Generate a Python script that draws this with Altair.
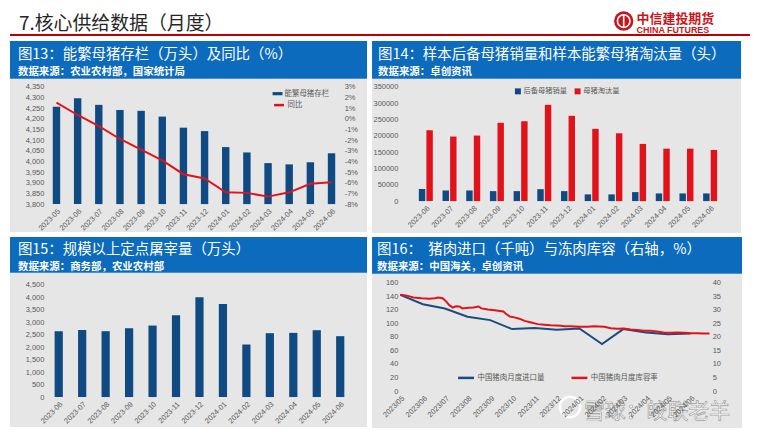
import altair as alt
import pandas as pd

FONT_CN = "Noto Sans CJK SC"
FONT_AX = "Liberation Sans"
HDR_BLUE = "#0c6bbd"
BG_GRAY = "#e6e6e6"
BAR_BLUE = "#0f4a83"
RED = "#e2121b"
LOGO_RED = "#c8161d"
LINE_BLUE = "#1d4b80"
LABEL_GRAY = "#595959"

# ---------------- page texts ----------------
page_title = "7.核心供给数据（月度）"
logo_cn = "中信建投期货"
logo_en = "CHINA FUTURES"
watermark = "雪球：皎联老羊"

# ---------------- Fig 13 ----------------
f13_title = "图13：能繁母猪存栏（万头）及同比（%）"
f13_source = "数据来源：农业农村部，国家统计局"
f13_months = ["2023-05", "2023-06", "2023-07", "2023-08", "2023-09", "2023-10", "2023-11",
              "2023-12", "2024-01", "2024-02", "2024-03", "2024-04", "2024-05", "2024-06"]
f13_sows = [4256, 4296, 4265, 4241, 4237, 4210, 4158, 4142, 4067, 4042, 3992, 3986, 3996, 4038]
f13_yoy = [1.5, 0.35, -0.7, -1.9, -2.9, -3.9, -5.2, -5.6, -6.9, -6.95, -7.3, -6.9, -6.1, -5.95]
f13_series = ["能繁母猪存栏", "同比"]

# ---------------- Fig 14 ----------------
f14_title = "图14：样本后备母猪销量和样本能繁母猪淘汰量（头）"
f14_source = "数据来源：卓创资讯"
f14_months = ["2023-06", "2023-07", "2023-08", "2023-09", "2023-10", "2023-11", "2023-12",
              "2024-01", "2024-02", "2024-03", "2024-04", "2024-05", "2024-06"]
f14_series = ["后备母猪销量", "母猪淘汰量"]
f14_gilts = [37000, 32500, 32500, 30500, 30500, 36500, 30500, 20500, 20500, 27500, 23500, 23500, 23500]
f14_cull = [217000, 197500, 200500, 239500, 244500, 294500, 261000, 221000, 207500, 175000,
            160500, 160500, 156500]

# ---------------- Fig 15 ----------------
f15_title = "图15：规模以上定点屠宰量（万头）"
f15_source = "数据来源：商务部，农业农村部"
f15_months = f14_months
f15_slaughter = [2636, 2689, 2636, 2755, 2862, 3275, 3994, 3727, 2103, 2556, 2569, 2676, 2436]

# ---------------- Fig 16 ----------------
f16_title = "图16：\u00a0\u00a0猪肉进口（千吨）与冻肉库容（右轴，%）"
f16_source = "数据来源：中国海关，卓创资讯"
f16_series = ["中国猪肉月度进口量", "中国猪肉月度库容率"]
f16_import_dates = ["2023-05-01", "2023-06-01", "2023-07-01", "2023-08-01", "2023-09-01",
                    "2023-10-01", "2023-11-01", "2023-12-01", "2024-01-01", "2024-02-01",
                    "2024-03-01", "2024-04-01", "2024-05-01", "2024-06-01"]
f16_import = [141.9, 128.2, 121.8, 109.6, 104.7, 91.5, 93.0, 90.5, 92.5, 69.5, 91.5, 86.6, 83.7, 85.1]
f16_stock_dates = ["2023-05-01", "2023-05-10", "2023-05-19", "2023-05-30", "2023-06-10",
                   "2023-06-17", "2023-06-22", "2023-06-28", "2023-07-03", "2023-07-07",
                   "2023-07-12", "2023-07-16", "2023-07-21", "2023-07-25", "2023-08-02",
                   "2023-08-09", "2023-08-16", "2023-08-20", "2023-08-29", "2023-09-07",
                   "2023-09-19", "2023-09-22", "2023-09-28", "2023-10-04", "2023-10-11",
                   "2023-10-18", "2023-10-27", "2023-11-05", "2023-11-14", "2023-11-23",
                   "2023-12-07", "2023-12-11", "2023-12-20", "2024-01-01", "2024-01-12",
                   "2024-01-21", "2024-02-04", "2024-02-13", "2024-02-22", "2024-03-02",
                   "2024-03-11", "2024-03-20", "2024-03-29", "2024-04-07", "2024-04-16",
                   "2024-04-25", "2024-05-05", "2024-05-14", "2024-05-23", "2024-06-01",
                   "2024-06-10", "2024-06-19", "2024-06-27"]
f16_stock = [35.5, 35.2, 34.5, 34.25, 34.1, 34.25, 34.5, 34.25, 33.0, 31.7,
             30.8, 31.3, 31.2, 30.5, 30.7, 30.8, 31.2, 30.5, 30.1, 29.8,
             29.4, 28.6, 27.5, 27.2, 26.7, 25.9, 25.3, 24.7, 24.5, 24.3,
             24.1, 23.9, 23.9, 23.7, 23.7, 23.9, 23.7, 23.2, 23.0, 23.1,
             22.75, 22.5, 22.3, 22.3, 22.0, 21.65, 21.5, 21.65, 21.5, 21.3,
             21.3, 21.2, 21.2]

ONE = pd.DataFrame({"k": [0]})


def txt(s, x, y, size, color="white", weight="normal", font=FONT_CN, **kw):
    return alt.Chart(pd.DataFrame({"t": [s]})).mark_text(
        align="left", baseline="alphabetic", font=font, fontSize=size,
        fontWeight=weight, color=color, **kw
    ).encode(x=alt.value(x), y=alt.value(y), text="t:N")


def frame(W, H, L, R, T, B, HH, title, source, tx, ty, sy):
    bg = alt.Chart(ONE).mark_rect(color=BG_GRAY).encode(
        x=alt.value(-L), x2=alt.value(W + R), y=alt.value(-T), y2=alt.value(H + B))
    hd = alt.Chart(ONE).mark_rect(color=HDR_BLUE).encode(
        x=alt.value(-L), x2=alt.value(W + R), y=alt.value(-T - HH), y2=alt.value(-T))
    t1 = txt(title, tx, ty, 14.5)
    t2 = txt(source, tx, sy, 10.5, weight="bold")
    return [bg, hd, t1, t2]


def ax(**kw):
    base = dict(title=None, zindex=1, domain=False, ticks=False, grid=False,
                labelFont=FONT_AX, labelFontSize=7.5, labelColor=LABEL_GRAY)
    base.update(kw)
    return alt.Axis(**base)


def xband_axis():
    return ax(labelAngle=-45, labelOverlap=False, labelPadding=3)


def leg(**kw):
    base = dict(title=None, orient="none", labelFont=FONT_CN, labelFontSize=7.5,
                labelColor=LABEL_GRAY, padding=0)
    base.update(kw)
    return alt.Legend(**base)


def indep(c):
    return c.resolve_scale(color="independent", fill="independent", stroke="independent").resolve_legend(
        color="independent", fill="independent", stroke="independent")


# ================= Panel 1 =================
W1, H1 = 298, 118
d13 = pd.DataFrame({"month": f13_months, "sows": f13_sows, "yoy": f13_yoy,
                    "s_bar": f13_series[0], "s_line": f13_series[1]})
x13 = alt.X("month:N", sort=f13_months,
            scale=alt.Scale(paddingInner=0.65, paddingOuter=0.33), axis=xband_axis())
bars13 = alt.Chart(d13).mark_bar().encode(
    x=x13,
    y=alt.Y("sows:Q", scale=alt.Scale(domain=[3800, 4350], nice=False, zero=False),
            axis=ax(orient="left", values=list(range(3800, 4351, 50)), format=",.0f")),
    y2=alt.datum(3800),
    fill=alt.Fill("s_bar:N", scale=alt.Scale(domain=[f13_series[0]], range=[BAR_BLUE]),
                  legend=leg(legendX=228, legendY=2, symbolType="M-1,-0.32H1V0.32H-1Z",
                             symbolSize=100, symbolStrokeWidth=0, labelOffset=2, symbolOffset=0)),
)
line13 = alt.Chart(d13).mark_line(strokeWidth=2).encode(
    x=x13,
    y=alt.Y("yoy:Q", scale=alt.Scale(domain=[-8, 3], nice=False, zero=False),
            axis=ax(orient="right", values=list(range(-8, 4)), labelExpr="datum.value + '%'")),
    stroke=alt.Stroke("s_line:N", scale=alt.Scale(domain=[f13_series[1]], range=[RED]),
                      legend=leg(legendX=228, legendY=12, symbolType="stroke", symbolSize=100,
                                 symbolStrokeWidth=2.5, labelOffset=2)),
)
p1 = alt.layer(*frame(W1, H1, 36, 25, 8, 28, 38, f13_title, f13_source, -28, -27.5, -11.5),
               bars13, line13).resolve_scale(y="independent").properties(width=W1, height=H1)

# ================= Panel 2 =================
W2, H2 = 338, 115
d14 = pd.DataFrame({"month": f14_months * 2,
                    "series": [f14_series[0]] * len(f14_months) + [f14_series[1]] * len(f14_months),
                    "value": f14_gilts + f14_cull})
bars14 = alt.Chart(d14).mark_bar().encode(
    x=alt.X("month:N", sort=f14_months,
            scale=alt.Scale(paddingInner=0.41, paddingOuter=0.8), axis=xband_axis()),
    xOffset=alt.XOffset("series:N", sort=f14_series, scale=alt.Scale(paddingInner=0.15)),
    y=alt.Y("value:Q", scale=alt.Scale(domain=[0, 350000], nice=False),
            axis=ax(values=list(range(0, 350001, 50000)), format="d")),
    color=alt.Color("series:N", sort=f14_series,
                    scale=alt.Scale(domain=f14_series, range=[BAR_BLUE, RED]),
                    legend=leg(legendX=115, legendY=1, direction="horizontal", symbolType="square",
                               symbolSize=36, symbolStrokeWidth=0, labelOffset=2, columnPadding=6,
                               labelFontSize=7.3)),
)
p2 = alt.layer(*frame(W2, H2, 28, 5, 8, 32, 38, f14_title, f14_source, -22, -27.5, -11.5),
               bars14).properties(width=W2, height=H2)

# ================= Panel 3 =================
W3, H3 = 309, 113
d15 = pd.DataFrame({"month": f15_months, "v": f15_slaughter})
bars15 = alt.Chart(d15).mark_bar(color=BAR_BLUE).encode(
    x=alt.X("month:N", sort=f15_months,
            scale=alt.Scale(paddingInner=0.65, paddingOuter=0.376), axis=xband_axis()),
    y=alt.Y("v:Q", scale=alt.Scale(domain=[0, 4500], nice=False),
            axis=ax(values=list(range(0, 4501, 500)), format=",.0f")),
)
p3 = alt.layer(*frame(W3, H3, 36, 14, 12, 30, 36, f15_title, f15_source, -28, -30.5, -14.5),
               bars15).properties(width=W3, height=H3)

# ================= Panel 4 =================
W4, H4 = 312, 109
d16a = pd.DataFrame({"date": f16_import_dates, "v": f16_import, "series": f16_series[0]})
d16b = pd.DataFrame({"date": f16_stock_dates, "v": f16_stock, "series": f16_series[1]})
x16 = alt.X("date:T",
            scale=alt.Scale(type="utc", domain=[alt.DateTime(year=2023, month=4, date=30, hours=12, utc=True),
                                                alt.DateTime(year=2024, month=6, date=28, utc=True)]),
            axis=ax(format="%Y/%m", tickCount={"interval": "month", "step": 1},
                    labelAngle=-45, labelOverlap=False, labelFlush=False, labelPadding=3))
leg16 = leg(legendX=57, legendY=86, direction="horizontal", symbolType="stroke", symbolSize=256,
            symbolStrokeWidth=2.5, labelOffset=2, columnPadding=21)
color16 = alt.Color("series:N", scale=alt.Scale(domain=f16_series, range=[LINE_BLUE, RED]),
                    legend=leg16)
line16a = alt.Chart(d16a).mark_line(strokeWidth=2).encode(
    x=x16,
    y=alt.Y("v:Q", scale=alt.Scale(domain=[0, 160], nice=False),
            axis=ax(orient="left", values=list(range(0, 161, 20)))),
    color=color16,
)
line16b = alt.Chart(d16b).mark_line(strokeWidth=2).encode(
    x=x16,
    y=alt.Y("v:Q", scale=alt.Scale(domain=[0, 40], nice=False),
            axis=ax(orient="right", values=list(range(0, 41, 5)))),
    color=color16,
)
wm_ring = alt.Chart(ONE).mark_point(shape="circle", filled=False, size=420, stroke="white",
                                    strokeWidth=2.5, opacity=0.95).encode(
    x=alt.value(171), y=alt.value(125))
wm_text = txt(watermark, 185, 136, 21, color="white", stroke="#9a9a9a", strokeWidth=0.7,
              opacity=0.95)
p4 = alt.layer(*frame(W4, H4, 28, 32, 9, 37, 37, f16_title, f16_source, -23, -28.5, -12.5),
               line16a, line16b, wm_ring, wm_text).resolve_scale(y="independent").properties(
    width=W4, height=H4)

# ================= Top strip (origin aligned with panel plot origin) =================
OX = -36
logo_disc = alt.Chart(ONE).mark_point(shape="circle", filled=True, size=380, color=LOGO_RED,
                                      opacity=1).encode(x=alt.value(581), y=alt.value(11))
logo_ring = alt.Chart(ONE).mark_point(shape="circle", filled=False, size=160, stroke="white",
                                      strokeWidth=1.6, opacity=1).encode(x=alt.value(581), y=alt.value(11))
logo_bar = alt.Chart(ONE).mark_rule(color="white", strokeWidth=1.6).encode(
    x=alt.value(581), y=alt.value(4), y2=alt.value(18))
red_rule = alt.Chart(ONE).mark_rule(color="#c00000", strokeWidth=2).encode(
    x=alt.value(OX), x2=alt.value(708), y=alt.value(25))
top = alt.layer(
    txt(page_title, -27, 19.5, 19, color="#262626"),
    logo_disc, logo_ring, logo_bar,
    txt(logo_cn, 594, 12.5, 13, color=LOGO_RED, weight="bold"),
    txt(logo_en, 594, 23.5, 9, color=LOGO_RED, weight="bold", font=FONT_AX),
    red_rule,
).properties(width=700, height=26)

col1 = indep(alt.vconcat(p1, p3, spacing=3))
col2 = indep(alt.vconcat(p2, p4, spacing=2))
row = indep(alt.hconcat(col1, col2, spacing=3))

chart = indep(alt.vconcat(top, row, spacing=3)).properties(
    padding=0, background="white"
).configure_view(stroke="transparent")

chart.save("out.html", embed_options={"renderer": "svg", "actions": False})
